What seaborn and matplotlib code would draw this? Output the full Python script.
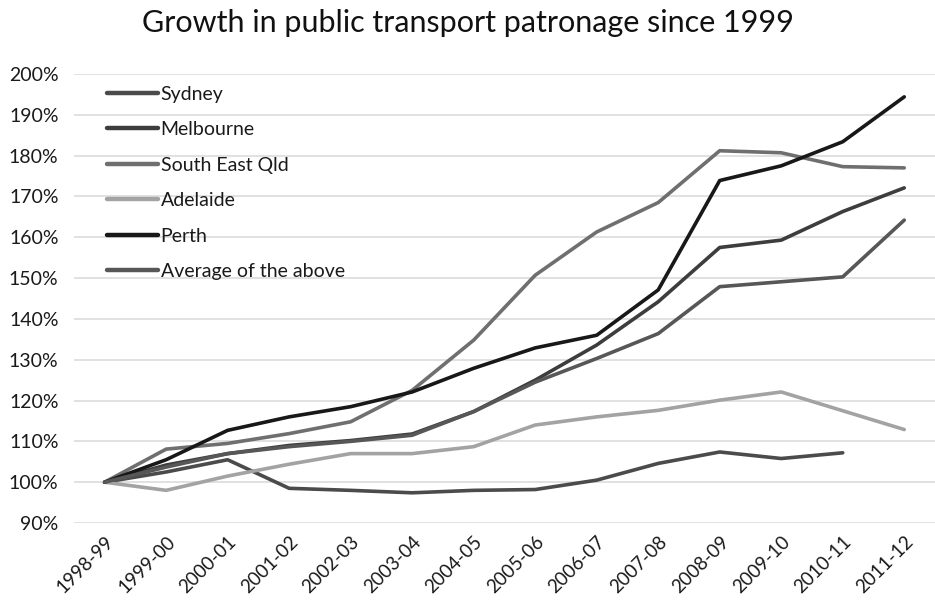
import numpy as np
import pandas as pd
import matplotlib
matplotlib.use("Agg")
import matplotlib.pyplot as plt
import seaborn as sns

# ---- data (index, 1998-99 = 100%) ----
years = ['1998-99', '1999-00', '2000-01', '2001-02', '2002-03', '2003-04', '2004-05',
         '2005-06', '2006-07', '2007-08', '2008-09', '2009-10', '2010-11', '2011-12']
sydney = [100, 102.5, 105.5, 98.5, 98.0, 97.4, 98.0, 98.2, 100.5, 104.6, 107.4, 105.8, 107.2, np.nan]
melbourne = [100, 104.2, 107.0, 109.0, 110.2, 111.8, 117.3, 125.0, 133.6, 144.2, 157.5, 159.3, 166.3, 172.1]
south_east_qld = [100, 108.1, 109.5, 111.9, 114.8, 122.5, 134.8, 150.7, 161.3, 168.5, 181.2, 180.7, 177.3, 177.0]
adelaide = [100, 98.0, 101.5, 104.4, 107.0, 107.0, 108.7, 114.0, 116.0, 117.6, 120.1, 122.1, 117.5, 112.9]
perth = [100, 105.5, 112.7, 116.0, 118.5, 122.1, 127.9, 132.9, 136.0, 147.1, 173.9, 177.5, 183.4, 194.4]
average = [100, 103.7, 107.0, 108.7, 110.0, 111.5, 117.3, 124.5, 130.3, 136.4, 147.9, 149.1, 150.3, 164.2]

series_names = ['Sydney', 'Melbourne', 'South East Qld', 'Adelaide', 'Perth', 'Average of the above']
colours = ['#4b4b4b', '#3d3d3d', '#6f6f6f', '#a3a3a3', '#181818', '#575757']

# long table for seaborn
df = pd.DataFrame({'year': years, 'Sydney': sydney, 'Melbourne': melbourne,
                   'South East Qld': south_east_qld, 'Adelaide': adelaide,
                   'Perth': perth, 'Average of the above': average})
long = df.melt(id_vars='year', var_name='series', value_name='pct').dropna()

sns.set_style("white")
plt.rcParams['font.family'] = ['Lato', 'DejaVu Sans']

fig = plt.figure(figsize=(9.35, 6.09), dpi=100)
ax = fig.add_axes([0.079, 0.1412, 0.921, 0.7373])

sns.lineplot(data=long, x='year', y='pct', hue='series', hue_order=series_names,
             palette=colours, linewidth=2.6, sort=False, ax=ax)

ax.set_xlim(-0.5, len(years) - 0.5)
ax.set_ylim(90, 200)
ax.set_yticks(np.arange(90, 201, 10))
ax.set_yticklabels([f'{v}%' for v in range(90, 201, 10)], fontsize=14, color='#1a1a1a')
ax.set_xticks(range(len(years)))
ax.set_xticklabels(years, rotation=45, ha='right', rotation_mode='anchor', fontsize=13.5,
                   color='#1a1a1a')
ax.tick_params(axis='y', length=0, pad=11)
ax.tick_params(axis='x', length=0, pad=7)
ax.set_xlabel('')
ax.set_ylabel('')
ax.grid(axis='y', color='#d9d9d9', linewidth=1.1)
ax.set_axisbelow(True)
for s in ax.spines.values():
    s.set_visible(False)

# legend inside, top left
leg = ax.legend(loc='upper left', bbox_to_anchor=(0.025, 1.0), frameon=False,
                fontsize=14, labelspacing=0.95, handlelength=2.6,
                handletextpad=0.15, borderaxespad=0.2)
for line in leg.get_lines():
    line.set_linewidth(3.2)
for t in leg.get_texts():
    t.set_color('#1a1a1a')

fig.text(0.5, 0.962, 'Growth in public transport patronage since 1999',
         ha='center', va='center', fontsize=22, color='#111111')

fig.savefig('out.png', dpi=100)
